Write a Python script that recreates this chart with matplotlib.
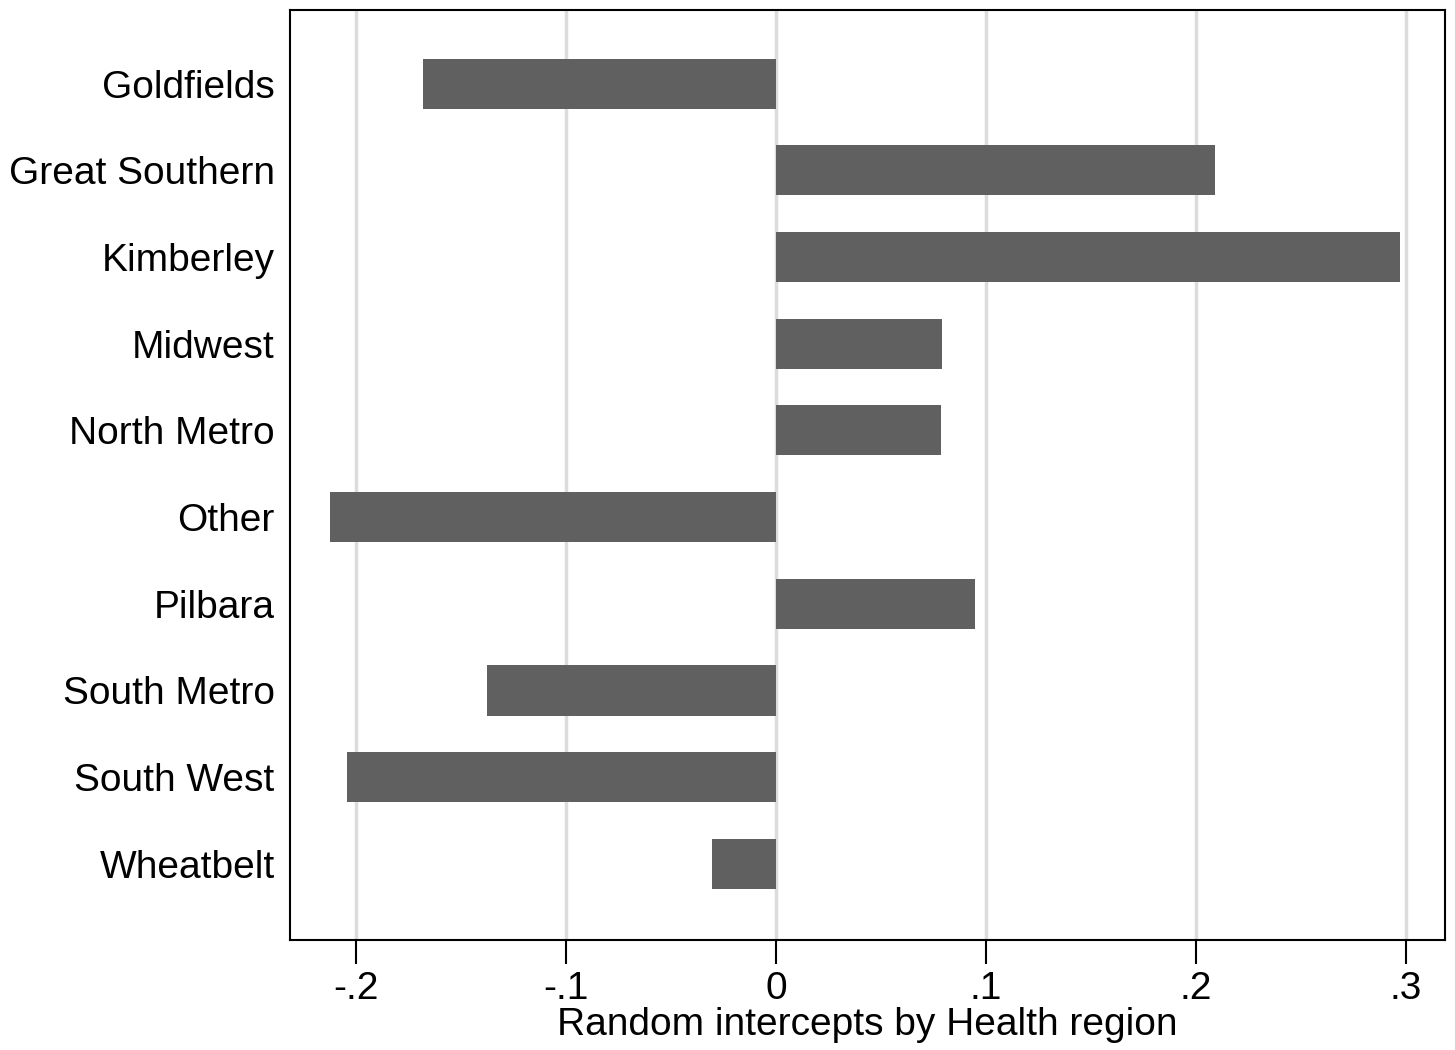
import numpy as np
import matplotlib.pyplot as plt

# Dados
regioes = ['Goldfields', 'Great Southern', 'Kimberley', 'Midwest', 'North Metro',
           'Other', 'Pilbara', 'South Metro', 'South West', 'Wheatbelt']
interceptos = [-0.168, 0.209, 0.297, 0.079, 0.0786, -0.2124, 0.0948, -0.1376, -0.2043, -0.0305]
ticks_x = [-0.2, -0.1, 0, 0.1, 0.2, 0.3]
rotulos_x = ['-.2', '-.1', '0', '.1', '.2', '.3']

plt.rcParams['font.family'] = ['Liberation Sans', 'DejaVu Sans']

fig = plt.figure(figsize=(14.55, 10.5), dpi=100)
ax = fig.add_axes([290 / 1455, 110 / 1050, 1155 / 1455, 930 / 1050])

pos = np.arange(len(regioes))
ax.barh(pos, interceptos, height=0.58, color='#606060', zorder=3)

ax.set_xlim(-0.2314, 0.3186)
ax.set_ylim(9.88, -0.85)
ax.set_xticks(ticks_x)
ax.set_xticklabels(rotulos_x)
ax.set_yticks(pos)
ax.set_yticklabels(regioes)

ax.grid(axis='x', color='#dcdcdc', linewidth=2.5, zorder=0)
ax.tick_params(axis='x', length=17, width=1.5, labelsize=28, pad=5)
ax.tick_params(axis='y', length=0, labelsize=28, pad=11)
for s in ax.spines.values():
    s.set_linewidth(1.5)

ax.set_xlabel('Random intercepts by Health region', fontsize=28, labelpad=0)

plt.savefig('out.png', dpi=100)
